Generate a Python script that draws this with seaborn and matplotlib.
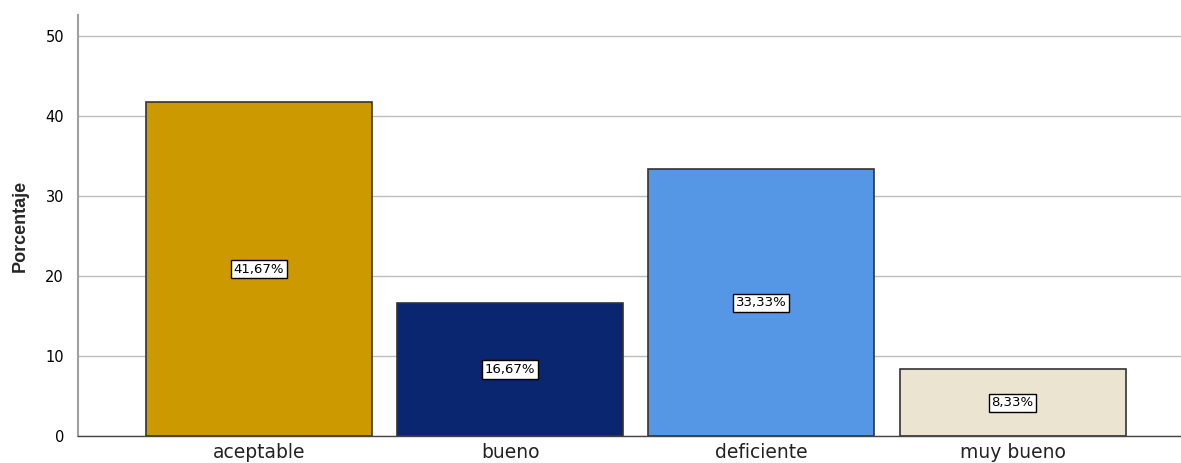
import matplotlib
matplotlib.use('Agg')
import matplotlib.pyplot as plt
import seaborn as sns

categories = ['aceptable', 'bueno', 'deficiente', 'muy bueno']
percentages = [41.67, 16.67, 33.33, 8.33]
labels = ['41,67%', '16,67%', '33,33%', '8,33%']
colors = ['#CC9900', '#0B2670', '#5596E5', '#EBE4D0']

sns.set_style('white')
plt.rcParams['font.family'] = ['DejaVu Sans']
plt.rcParams['text.color'] = 'black'
plt.rcParams['xtick.color'] = '#222222'
plt.rcParams['ytick.color'] = 'black'

fig = plt.figure(figsize=(11.81, 4.63), dpi=100)
ax = fig.add_axes([0.066, 0.058, 0.934, 0.91])

ax.set_axisbelow(True)
ax.yaxis.grid(True, color='#BDBDBD', linewidth=1)
sns.barplot(x=categories, y=percentages, hue=categories, palette=colors,
            width=0.9, edgecolor='#333333', linewidth=1.2, saturation=1,
            legend=False, ax=ax)

for i, (v, lab) in enumerate(zip(percentages, labels)):
    ax.text(i, v / 2, lab, ha='center', va='center', fontsize=9.5,
            bbox=dict(boxstyle='square,pad=0.2', fc='white', ec='black', lw=1))

ax.set_xlim(-0.72, 3.67)
ax.set_ylim(0, 52.6)
ax.set_yticks([0, 10, 20, 30, 40, 50])
ax.tick_params(axis='y', labelsize=10.5, length=0, pad=10)
ax.tick_params(axis='x', labelsize=13.5, length=0, pad=5)
ax.set_ylabel('Porcentaje', fontsize=13, fontweight='bold', labelpad=12,
              family='Liberation Sans')
ax.set_xlabel('')

for s in ['top', 'right']:
    ax.spines[s].set_visible(False)
ax.spines['left'].set_color('#A0A0A0')
ax.spines['left'].set_linewidth(1.5)
ax.spines['bottom'].set_color('#444444')
ax.spines['bottom'].set_linewidth(1)

fig.savefig('out.png', dpi=100)
